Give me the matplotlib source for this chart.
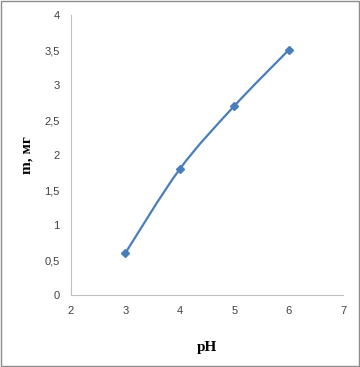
import matplotlib
matplotlib.use("Agg")
import matplotlib.pyplot as plt
import numpy as np
from matplotlib.path import Path
from matplotlib.patches import PathPatch, Rectangle

# data
ph = [3, 4, 5, 6]
mass = [0.6, 1.8, 2.7, 3.5]
xticks = [2, 3, 4, 5, 6, 7]
yticks = [0, 0.5, 1, 1.5, 2, 2.5, 3, 3.5, 4]

line_color = "#4a7ebb"

fig = plt.figure(figsize=(3.6, 3.67), dpi=100)
ax = fig.add_axes([0.197, 0.196, 0.756, 0.763])

# smooth line (Excel style) via cubic bezier through the points
pts = np.column_stack([ph, mass])
verts = [tuple(pts[0])]
codes = [Path.MOVETO]
t = 1 / 6
for i in range(len(pts) - 1):
    p0 = pts[i - 1] if i > 0 else pts[i]
    p1 = pts[i]
    p2 = pts[i + 1]
    p3 = pts[i + 2] if i + 2 < len(pts) else pts[i + 1]
    c1 = p1 + (p2 - p0) * t
    c2 = p2 - (p3 - p1) * t
    verts += [tuple(c1), tuple(c2), tuple(p2)]
    codes += [Path.CURVE4] * 3
ax.add_patch(PathPatch(Path(verts, codes), fc="none", ec=line_color, lw=1.6))
ax.plot(ph, mass, ls="none", marker="D", ms=4.5, color=line_color)

ax.set_xlim(2, 7)
ax.set_ylim(0, 4)
ax.set_xticks(xticks)
ax.set_yticks(yticks)
ax.set_yticklabels([f"{v:g}".replace(".", ",") for v in yticks])
ax.tick_params(length=0, labelsize=8, colors="#404040", pad=8)
for lab in ax.get_xticklabels() + ax.get_yticklabels():
    lab.set_family("Liberation Sans")
for s in ["top", "right"]:
    ax.spines[s].set_visible(False)
for s in ["left", "bottom"]:
    ax.spines[s].set_color("#bfbfbf")
    ax.spines[s].set_linewidth(0.8)

ax.set_xlabel("pH", fontsize=11, fontweight="bold", family="Liberation Serif", labelpad=18)
ax.set_ylabel("m, мг", fontsize=11, fontweight="bold", family="Liberation Serif", labelpad=8)

fig.patches.append(Rectangle((0.003, 0.004), 0.994, 0.992, transform=fig.transFigure,
                             fill=False, ec="#8c8c8c", lw=1))

fig.savefig("out.png", dpi=100)
